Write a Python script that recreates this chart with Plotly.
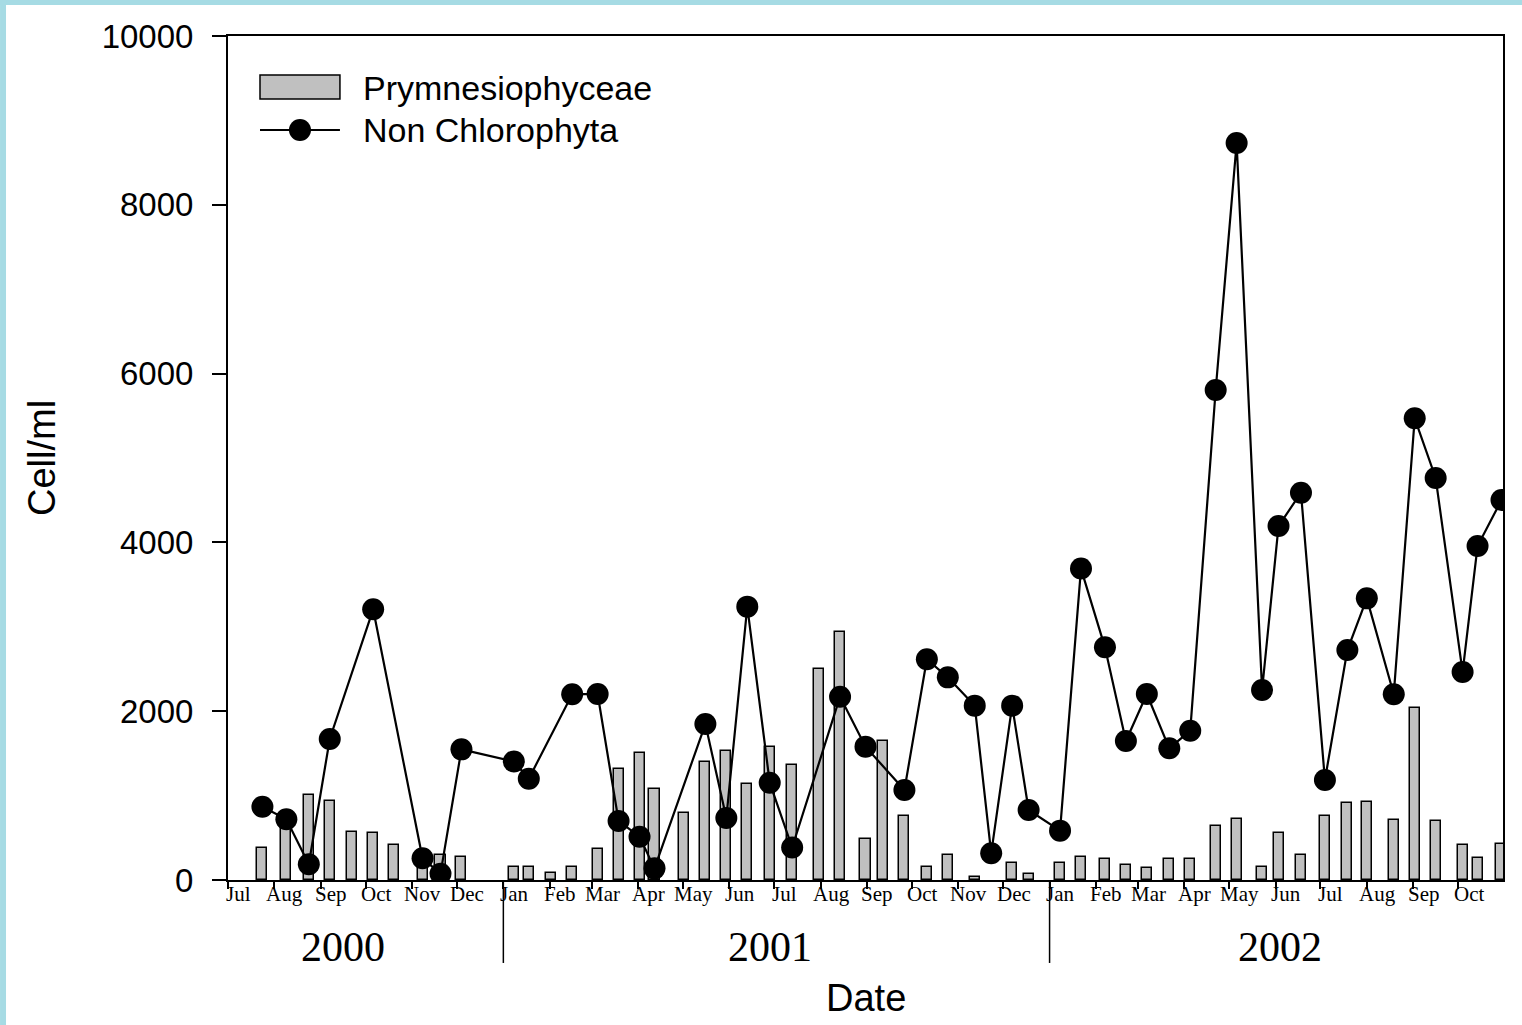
import pandas as pd
import plotly.graph_objects as go

# sample dates / values
bar_dates = [
    "2000-07-24", "2000-08-09", "2000-08-24", "2000-09-07", "2000-09-22",
    "2000-10-06", "2000-10-20", "2000-11-08", "2000-11-20", "2000-12-04",
    "2001-01-08", "2001-01-18", "2001-02-02", "2001-02-16", "2001-03-05",
    "2001-03-19", "2001-04-02", "2001-04-12", "2001-05-02", "2001-05-16",
    "2001-05-30", "2001-06-13", "2001-06-28", "2001-07-13", "2001-07-31",
    "2001-08-14", "2001-08-31", "2001-09-12", "2001-09-26", "2001-10-11",
    "2001-10-25", "2001-11-12", "2001-12-07", "2001-12-18", "2002-01-08",
    "2002-01-22", "2002-02-07", "2002-02-21", "2002-03-07", "2002-03-22",
    "2002-04-05", "2002-04-22", "2002-05-06", "2002-05-23", "2002-06-03",
    "2002-06-18", "2002-07-04", "2002-07-19", "2002-08-01", "2002-08-19",
    "2002-09-02", "2002-09-16", "2002-10-04", "2002-10-14", "2002-10-30",
]
bar_values = [
    375, 700, 1010, 940, 573,
    561, 411, 200, 292, 276,
    150, 150, 87, 158, 371,
    1311, 1509, 1074, 798, 1398,
    1532, 1141, 1580, 1360, 2500,
    2942, 482, 1647, 762, 158,
    300, 32, 197, 75, 197,
    269, 245, 174, 138, 245,
    245, 635, 718, 158, 552,
    302, 764, 912, 928, 715,
    2042, 703, 411, 261, 430,
]

line_dates = [
    "2000-07-24", "2000-08-09", "2000-08-24", "2000-09-07", "2000-10-06",
    "2000-11-08", "2000-11-20", "2000-12-04", "2001-01-08", "2001-01-18",
    "2001-02-16", "2001-03-05", "2001-03-19", "2001-04-02", "2001-04-12",
    "2001-05-16", "2001-05-30", "2001-06-13", "2001-06-28", "2001-07-13",
    "2001-08-14", "2001-08-31", "2001-09-26", "2001-10-11", "2001-10-25",
    "2001-11-12", "2001-11-23", "2001-12-07", "2001-12-18", "2002-01-08",
    "2002-01-22", "2002-02-07", "2002-02-21", "2002-03-07", "2002-03-22",
    "2002-04-05", "2002-04-22", "2002-05-06", "2002-05-23", "2002-06-03",
    "2002-06-18", "2002-07-04", "2002-07-19", "2002-08-01", "2002-08-19",
    "2002-09-02", "2002-09-16", "2002-10-04", "2002-10-14", "2002-10-30",
]
line_values = [
    869, 719, 186, 1671, 3207,
    257, 75, 1548, 1405, 1200,
    2200, 2204, 699, 513, 138,
    1848, 735, 3239, 1153, 385,
    2172, 1580, 1066, 2615, 2401,
    2066, 316, 2066, 829, 585,
    3690, 2757, 1647, 2204, 1560,
    1769, 5806, 8732, 2251, 4194,
    4589, 1185, 2725, 3337, 2200,
    5470, 4763, 2464, 3957, 4502,
]

months = pd.date_range("2000-07-01", "2002-10-01", freq="MS")
month_labels = [m.strftime("%b") for m in months]
years = ["2000", "2001", "2002"]
year_centres = ["2000-09-16", "2001-06-28", "2002-06-04"]
year_breaks = ["2001-01-01", "2002-01-01"]

DAY_MS = 86400000
SERIF = "Liberation Serif, Times New Roman"

fig = go.Figure()
fig.add_trace(go.Bar(
    x=bar_dates, y=bar_values, name="Prymnesiophyceae",
    width=6.7 * DAY_MS,
    marker=dict(color="#c0c0c0", line=dict(color="black", width=1.5)),
    showlegend=False,
))
fig.add_trace(go.Scatter(
    x=line_dates, y=line_values, name="Non Chlorophyta",
    mode="lines+markers",
    line=dict(color="black", width=2.2),
    marker=dict(color="black", size=22),
    showlegend=False,
))

annotations = []
for m, lab in zip(months, month_labels):
    annotations.append(dict(
        x=m + pd.Timedelta(days=7), y=0, xref="x", yref="paper",
        text=lab, showarrow=False, yanchor="middle", yshift=-14,
        font=dict(family=SERIF, size=21, color="black"),
    ))
for yr, c in zip(years, year_centres):
    annotations.append(dict(
        x=c, y=0, xref="x", yref="paper", text=yr, showarrow=False,
        yanchor="middle", yshift=-67,
        font=dict(family=SERIF, size=42, color="black"),
    ))
annotations.append(dict(
    x=0.5, y=0, xref="paper", yref="paper", text="Date", showarrow=False,
    yanchor="middle", yshift=-118, font=dict(size=38, color="black"),
))
annotations.append(dict(
    x=0, y=0.5, xref="paper", yref="paper", text="Cell/ml", showarrow=False,
    textangle=-90, xanchor="center", xshift=-186, font=dict(size=38, color="black"),
))

# legend drawn by hand so the swatches match the original
annotations.append(dict(
    x=0.1043, y=0.9384, xref="paper", yref="paper", text="Prymnesiophyceae",
    showarrow=False, xanchor="left", yanchor="middle", font=dict(size=34, color="black"),
))
annotations.append(dict(
    x=0.1043, y=0.8886, xref="paper", yref="paper", text="Non Chlorophyta",
    showarrow=False, xanchor="left", yanchor="middle", font=dict(size=34, color="black"),
))

shapes = []
for b in year_breaks:
    shapes.append(dict(type="line", xref="x", yref="paper", x0=b, x1=b,
                       y0=0, y1=-0.0983, line=dict(color="black", width=1.5)))
shapes += [
    dict(type="rect", xref="paper", yref="paper", x0=0.0251, x1=0.0878,
         y0=0.9254, y1=0.9538, fillcolor="#c0c0c0", line=dict(color="black", width=1.5)),
    dict(type="line", xref="paper", yref="paper", x0=0.0251, x1=0.0878,
         y0=0.8886, y1=0.8886, line=dict(color="black", width=2)),
    dict(type="circle", xref="paper", yref="paper", x0=0.0478, x1=0.0651,
         y0=0.8756, y1=0.9017, fillcolor="black", line=dict(color="black", width=0)),
    # light blue frame strips of the original slide
    dict(type="rect", xref="paper", yref="paper", x0=-0.1788, x1=1.0149,
         y0=1.0367, y1=1.0427, fillcolor="#a6dbe4", line=dict(width=0), layer="below"),
    dict(type="rect", xref="paper", yref="paper", x0=-0.1788, x1=-0.1741,
         y0=-0.1718, y1=1.0427, fillcolor="#a6dbe4", line=dict(width=0), layer="below"),
]

fig.update_layout(
    width=1522, height=1025,
    margin=dict(l=228, r=19, t=36, b=145),
    paper_bgcolor="white", plot_bgcolor="white",
    font=dict(family="Liberation Sans, Arial", color="black"),
    bargap=0,
    annotations=annotations,
    shapes=shapes,
)
fig.update_xaxes(
    type="date", range=["2000-07-01", "2002-10-31"],
    tick0="2000-07-01", dtick="M1", ticks="outside", ticklen=7,
    tickcolor="black", tickwidth=1.5, showticklabels=False,
    showline=True, linecolor="black", linewidth=2, mirror=True,
    showgrid=False, zeroline=False,
)
fig.update_yaxes(
    range=[0, 10000], tickvals=[0, 2000, 4000, 6000, 8000, 10000],
    tickformat="d", ticks="outside", ticklen=14, tickcolor="black", tickwidth=1.5,
    ticklabelstandoff=12, tickfont=dict(size=33, color="black"),
    showline=True, linecolor="black", linewidth=2, mirror=True,
    showgrid=False, zeroline=False,
)

# drop the default body margin so the figure sits at the page origin
fig.write_html(
    "out.html",
    config={"displayModeBar": False},
    post_script="document.body.style.margin='0';",
)
